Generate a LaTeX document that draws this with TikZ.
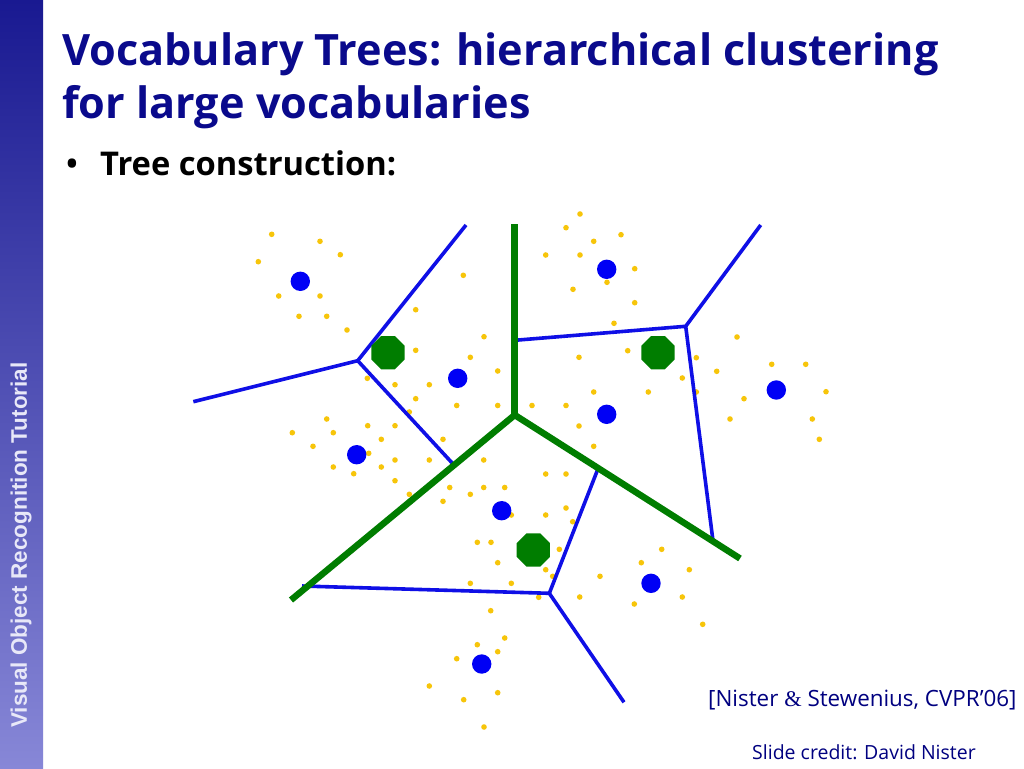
\documentclass[tikz,border=0pt]{standalone}
\usepackage{fontspec}
\setmainfont{Open Sans}
\newfontfamily\sidefont{Liberation Sans}
\newfontfamily\ampfont{Liberation Serif}
\usetikzlibrary{shapes.geometric}
\definecolor{navy}{RGB}{10,10,140}
\definecolor{citeblue}{RGB}{0,0,128}
\definecolor{dotyellow}{RGB}{247,197,10}
\definecolor{cblue}{RGB}{0,0,245}
\definecolor{lblue}{RGB}{15,15,230}
\definecolor{tgreen}{RGB}{0,125,0}
\definecolor{sidetop}{RGB}{25,25,145}
\definecolor{sidebot}{RGB}{135,135,215}
\definecolor{sidetext}{RGB}{232,232,248}
\tikzset{
  yd/.style={fill=dotyellow},
  bluedot/.style={fill=cblue},
  bline/.style={draw=lblue,line width=3.6pt},
  gline/.style={draw=tgreen,line width=6.5pt},
  octa/.style={regular polygon,regular polygon sides=8,fill=tgreen,inner sep=0pt,minimum size=36pt},
}
\begin{document}
\begin{tikzpicture}[x=1pt,y=-1pt]
\useasboundingbox (0,0) rectangle (1024,768);
\fill[white] (0,0) rectangle (1024,768);
% sidebar
\shade[top color=sidetop,bottom color=sidebot] (0,0) rectangle (43,768);
\node[rotate=90,anchor=base west,text=sidetext,font=\sidefont\bfseries\fontsize{22.5}{26}\selectfont,inner sep=0pt] (side) at (27,728) {Visual Object Recognition Tutorial};
% title
\node[anchor=base west,text=navy,font=\bfseries\fontsize{43.2}{52}\selectfont,inner sep=0pt] (t1) at (62,65) {Vocabulary Trees: hierarchical clustering};
\node[anchor=base west,text=navy,font=\bfseries\fontsize{43.2}{52}\selectfont,inner sep=0pt] (t2) at (62,118.5) {for large vocabularies};
\node[anchor=base,font=\bfseries\fontsize{30}{36}\selectfont,inner sep=0pt] (bul) at (72,174) {\textbullet};
\node[anchor=base west,font=\bfseries\fontsize{32.7}{36}\selectfont,inner sep=0pt] (b1) at (100,175) {Tree construction:};
% yellow points
\foreach \x/\y in {
271.7/234.3,320/241.3,340.3/254.7,258.3/261.7,463.3/275.3,278.7/296,320/296,299/316.3,326.7/316.3,347/330,
415.7/309.7,484/336.7,415.7/350.3,470.3/357.3,497.7/371,367.3/378.3,395/384.7,429.3/384.7,415.7/398.7,
456.7/405.5,497.7/405.5,409.3/412,326.7/419,292.3/432.7,333.3/432.7,367.7/425.7,395/425.7,381.3/439.3,
443/439.3,313/446.3,368.7/453.3,333.3/467,381.3/467,395/460,429.3/460,353.7/473.7,483.7/460,395/480.7,
449.7/487.5,483.7/487.5,504.7/487.5,470.3/494.3,409.3/494.3,443/501.3,
580/214,566/227.7,621/234.7,593.7/241.3,545.7/255,580/255,634.7/268.7,607/282.3,573/289.3,634.7/302.7,
614/323.3,737/337,579/357.3,627.7/350.7,696.3/357.7,716.7/371.3,771.7/364.3,805.7/364.3,682.3/378,
593.7/392,648.3/392,696.3/392,744/398.7,826/391.7,532/405.5,566/405.5,579/426,730/419,812.3/419,
819.3/439.3,593.7/446.3,
545.7/474,566/474,566/508,545.7/515,511.3/515,572.7/521.7,477.3/542.3,491/542.3,559.3/549.3,497.7/562.7,
545.7/569.7,552.7/576.3,470.3/583.3,511.3/583.3,538.7/597.3,490.7/610.7,661.7/549.3,641.3/562.7,
689.3/569.7,600/576.3,579.7/597,682.3/597,634.3/604,702.7/624.3,504.7/638,477.3/644.7,497.7/651.7,
456.7/658.7,429.3/686,497.7/692.7,463.7/699.7,484/727}
  \fill[yd] (\x,\y) circle[radius=2.8pt];
% junctions and ends
\coordinate (G0) at (514.7,415);
\coordinate (Gtop) at (514.7,224);
\coordinate (Gleft) at (291,600);
\coordinate (Gright) at (740,558.5);
\coordinate (B1) at (357.7,360.7);
\coordinate (B1a) at (466,225);
\coordinate (B1b) at (193.3,401.7);
\coordinate (B1c) at (454,465);
\coordinate (B2) at (685.7,326.3);
\coordinate (B2a) at (514.7,340.3);
\coordinate (B2b) at (760.7,225);
\coordinate (B2c) at (713,541);
\coordinate (B3) at (549.3,593.3);
\coordinate (B3a) at (302,586);
\coordinate (B3b) at (597.5,470);
\coordinate (B3c) at (624,702.3);
% blue boundaries
\draw[bline] (B1a) -- (B1) -- (B1b);
\draw[bline] (B1) -- (B1c);
\draw[bline] (B2a) -- (B2) -- (B2b);
\draw[bline] (B2) -- (B2c);
\draw[bline] (B3a) -- (B3) -- (B3b);
\draw[bline] (B3) -- (B3c);
% green boundaries
\draw[gline] (Gtop) -- (G0);
\draw[gline,line join=miter] (Gleft) -- (G0) -- (Gright);
% blue centres
\foreach \x/\y in {300.3/281.3,457.7/378.3,356.7/454.7,606.7/269.3,606.7/414.3,776.3/390,501.7/510.7,651/583.3,481.7/664}
  \fill[bluedot] (\x,\y) circle[radius=9.7pt];
% green centres
\node[octa] (o1) at (388,352.7) {};
\node[octa] (o2) at (658,352.7) {};
\node[octa] (o3) at (533.3,550) {};
% citation
\node[anchor=base west,text=citeblue,font=\fontsize{22.4}{26}\selectfont,inner sep=0pt] (cite) at (708,706) {[Nister {\ampfont\&} Stewenius, CVPR’06]};
\node[anchor=base west,text=citeblue,font=\fontsize{19.5}{23}\selectfont,inner sep=0pt] (credit) at (752,759) {Slide credit: David Nister};
\end{tikzpicture}
\end{document}
